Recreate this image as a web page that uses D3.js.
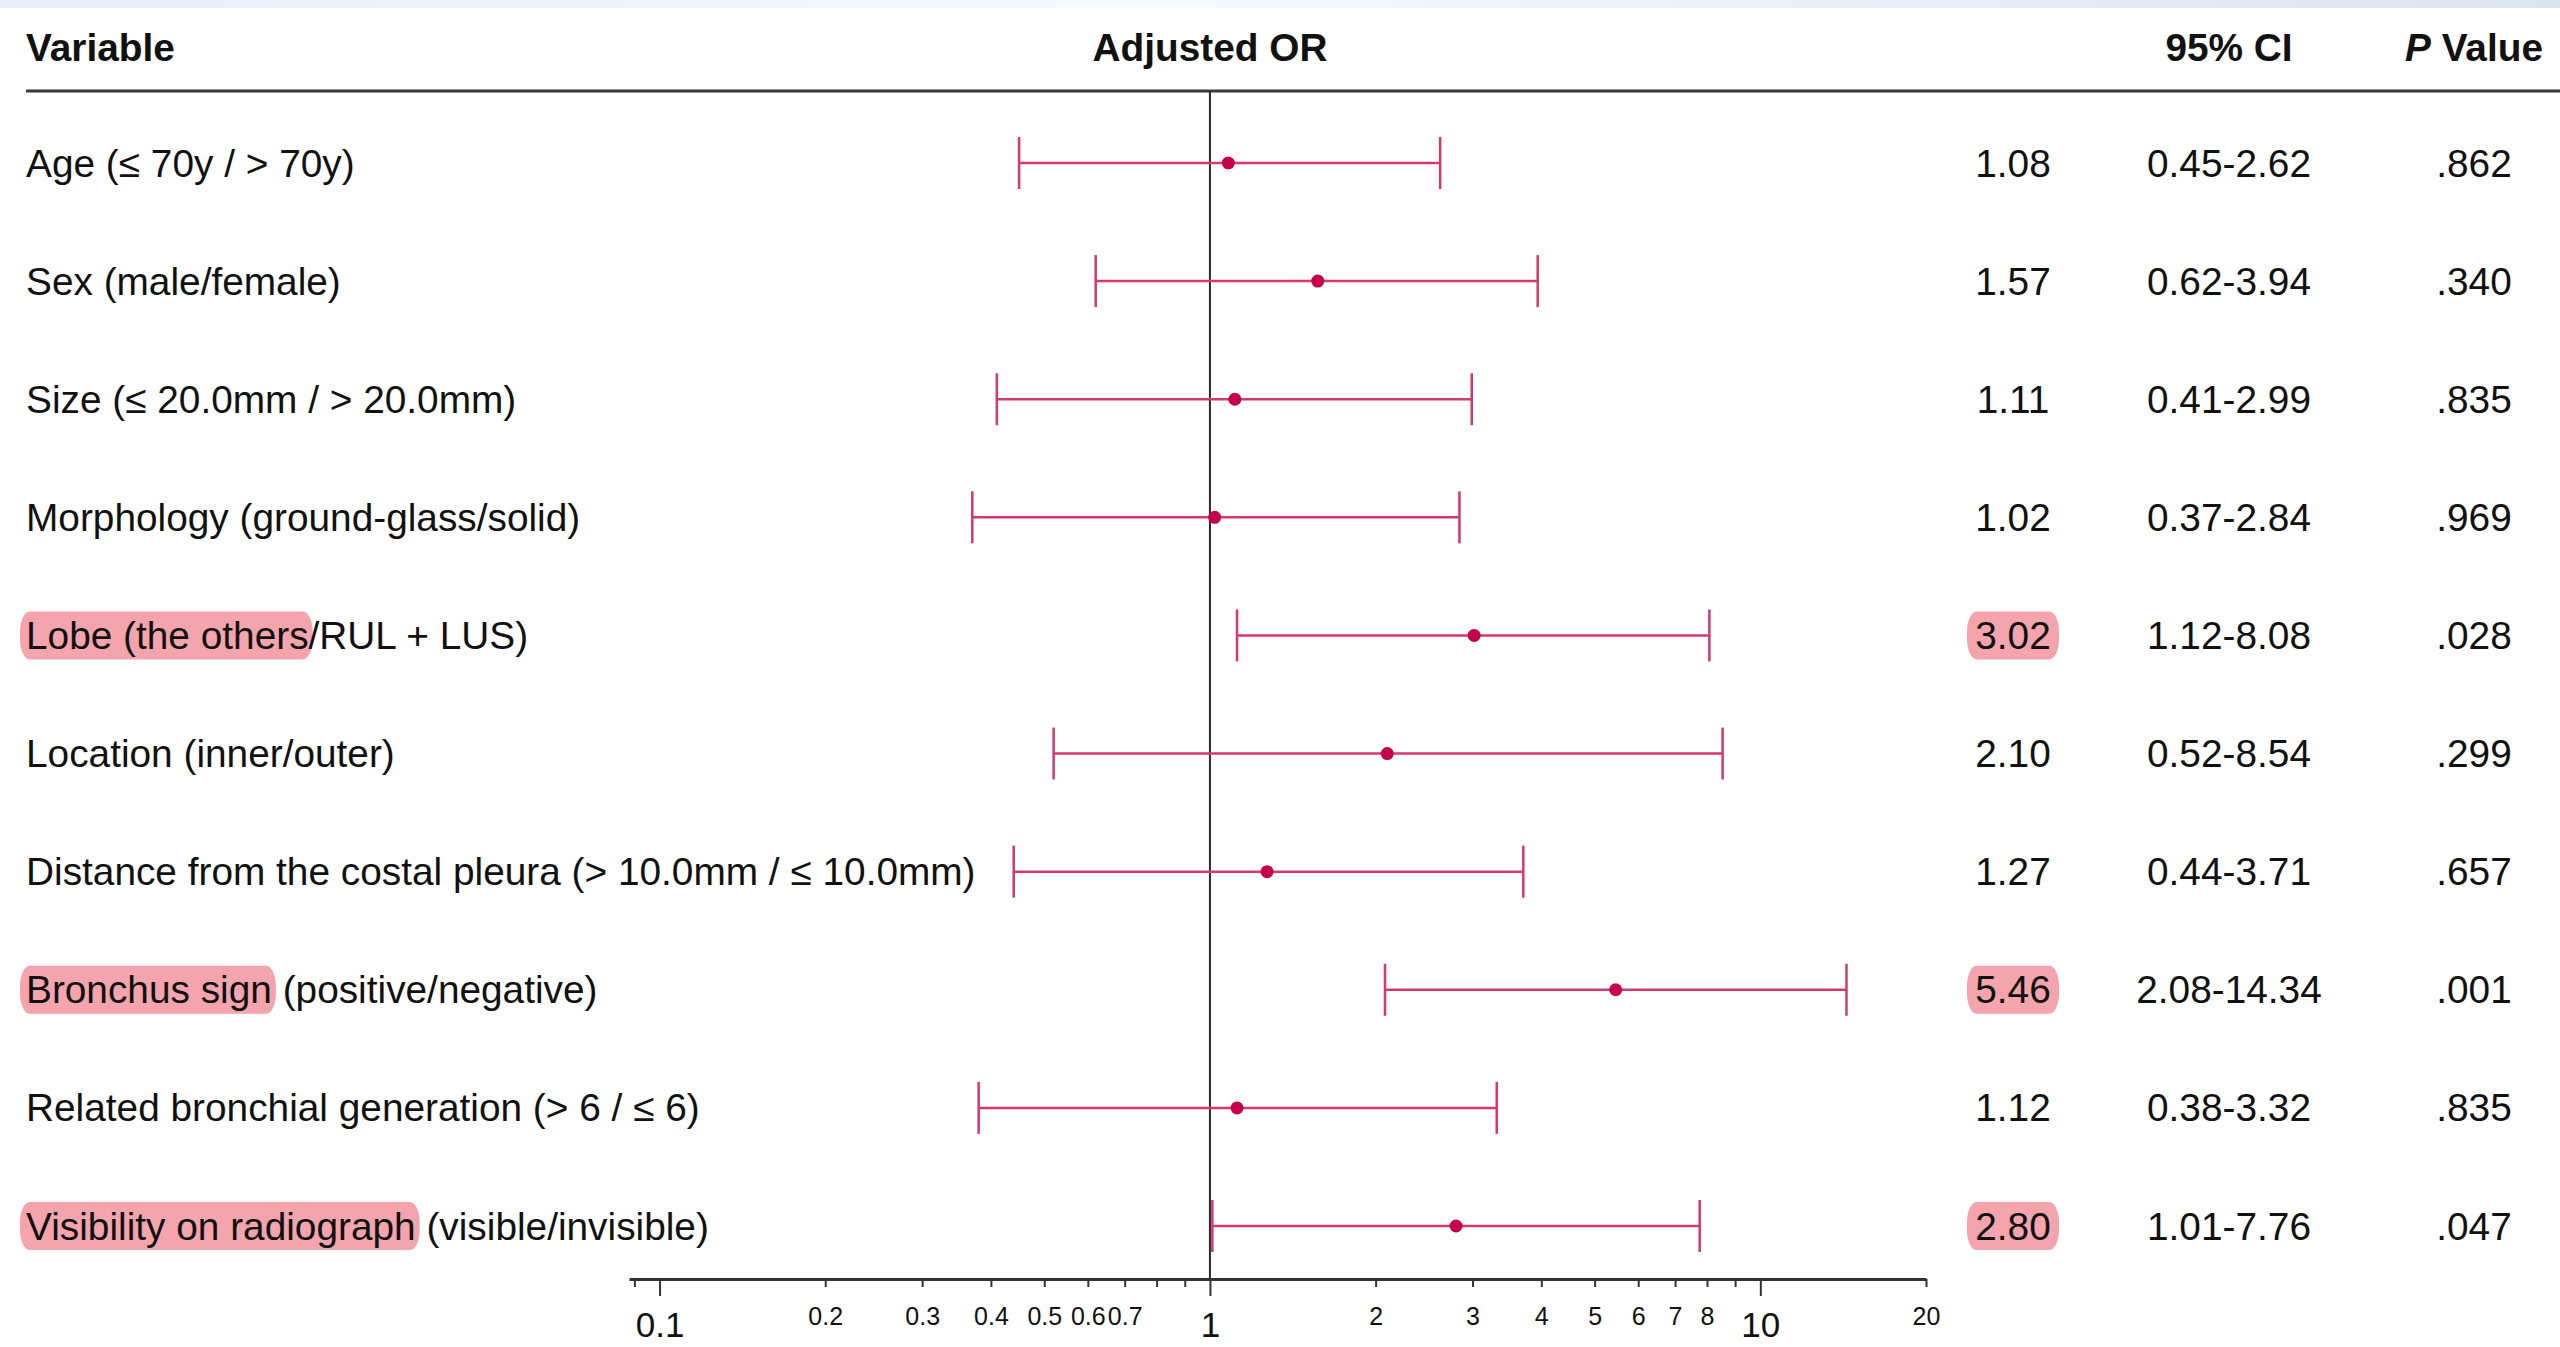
<!DOCTYPE html>
<html>
<head>
<meta charset="utf-8">
<script src="https://cdn.jsdelivr.net/npm/d3@7"></script>
<style>
  body { margin: 0; background: #fff; }
  svg { display: block; font-family: "Liberation Sans", Arial, Helvetica, sans-serif; }
</style>
</head>
<body>
<svg id="chart" width="2560" height="1347"></svg>
<script>
// ---- data ----
var variables = [
    "Age (≤ 70y / > 70y)",
    "Sex (male/female)",
    "Size (≤ 20.0mm / > 20.0mm)",
    "Morphology (ground-glass/solid)",
    "Lobe (the others/RUL + LUS)",
    "Location (inner/outer)",
    "Distance from the costal pleura (> 10.0mm / ≤ 10.0mm)",
    "Bronchus sign (positive/negative)",
    "Related bronchial generation (> 6 / ≤ 6)",
    "Visibility on radiograph (visible/invisible)"
];
// leading part of each label that is highlighted (empty = none)
var highlighted = ["", "", "", "", "Lobe (the others", "", "", "Bronchus sign", "", "Visibility on radiograph"];
var oddsRatio = [1.08, 1.57, 1.11, 1.02, 3.02, 2.10, 1.27, 5.46, 1.12, 2.80];
var ciLow = [0.45, 0.62, 0.41, 0.37, 1.12, 0.52, 0.44, 2.08, 0.38, 1.01];
var ciHigh = [2.62, 3.94, 2.99, 2.84, 8.08, 8.54, 3.71, 14.34, 3.32, 7.76];
var orText = ["1.08", "1.57", "1.11", "1.02", "3.02", "2.10", "1.27", "5.46", "1.12", "2.80"];
var ciText = ["0.45-2.62", "0.62-3.94", "0.41-2.99", "0.37-2.84", "1.12-8.08", "0.52-8.54", "0.44-3.71", "2.08-14.34", "0.38-3.32", "1.01-7.76"];
var pText = [".862", ".340", ".835", ".969", ".028", ".299", ".657", ".001", ".835", ".047"];
var axisExtent = [0.088, 20];
var tickValues = [0.09, 0.1, 0.2, 0.3, 0.4, 0.5, 0.6, 0.7, 0.8, 0.9, 1, 2, 3, 4, 5, 6, 7, 8, 9, 10, 20];
var smallLabels = [0.2, 0.3, 0.4, 0.5, 0.6, 0.7, 2, 3, 4, 5, 6, 7, 8, 20];
var bigLabels = [0.1, 1, 10];

var svg = d3.select("#chart"),
    width = +svg.attr("width"),
    height = +svg.attr("height");

var lineColor = "#d23a6b",
    dotColor = "#c4004c",
    markColor = "#f4a4ad",
    fontSize = 38.8;

var rows = variables.map(function (d, i) {
    return { label: d, hl: highlighted[i], or: oddsRatio[i], lo: ciLow[i], hi: ciHigh[i],
             orT: orText[i], ciT: ciText[i], pT: pText[i], sig: highlighted[i] !== "" };
});

// top strip
var defs = svg.append("defs");
var grad = defs.append("linearGradient").attr("id", "strip");
grad.append("stop").attr("offset", "0%").attr("stop-color", "#e7edf6");
grad.append("stop").attr("offset", "45%").attr("stop-color", "#f7f9fc");
grad.append("stop").attr("offset", "100%").attr("stop-color", "#dbe3ef");
svg.append("rect").attr("width", width).attr("height", 8).attr("fill", "url(#strip)");

var x = d3.scaleLog()
    .domain(axisExtent)
    .range([629, 1926]);

var y = d3.scalePoint()
    .domain(d3.range(rows.length))
    .range([163, 1226]);

var axisY = 1279,
    headerY = 47,
    headerLine = 91,
    colOR = 2013,
    colCI = 2229,
    colP = 2474;

// header
var header = svg.append("g")
    .attr("font-weight", "bold")
    .attr("font-size", fontSize)
    .attr("fill", "#111");
header.append("text").attr("x", 26).attr("y", headerY).attr("dy", "0.35em").text("Variable");
header.append("text").attr("x", x(1)).attr("y", headerY).attr("dy", "0.35em")
    .attr("text-anchor", "middle").text("Adjusted OR");
header.append("text").attr("x", colCI).attr("y", headerY).attr("dy", "0.35em")
    .attr("text-anchor", "middle").text("95% CI");
var pv = header.append("text").attr("x", colP).attr("y", headerY).attr("dy", "0.35em")
    .attr("text-anchor", "middle");
pv.append("tspan").attr("font-style", "italic").text("P");
pv.append("tspan").text(" Value");

svg.append("line")
    .attr("x1", 26).attr("x2", width)
    .attr("y1", headerLine).attr("y2", headerLine)
    .attr("stroke", "#3a3a3a").attr("stroke-width", 3);

// reference line at OR = 1
svg.append("line")
    .attr("x1", x(1)).attr("x2", x(1))
    .attr("y1", headerLine).attr("y2", axisY)
    .attr("stroke", "#2a2a2a").attr("stroke-width", 2);

// row labels with highlight boxes
var label = svg.append("g")
    .attr("font-size", fontSize)
    .attr("fill", "#111")
    .selectAll("g")
    .data(rows)
    .enter().append("g")
    .attr("transform", function (d, i) { return "translate(26," + y(i) + ")"; });

label.each(function (d) {
    var g = d3.select(this);
    if (d.hl) {
        var box = g.append("rect");
        var t = g.append("text").attr("dy", "0.35em");
        t.append("tspan").text(d.hl);
        var w = t.node().getComputedTextLength();
        t.append("tspan").text(d.label.slice(d.hl.length));
        box.attr("x", -6).attr("y", -24).attr("width", w + 10).attr("height", 48)
            .attr("rx", 10).attr("ry", 20).attr("fill", markColor);
    } else {
        g.append("text").attr("dy", "0.35em").text(d.label);
    }
});

// CI bars
var bars = svg.append("g")
    .selectAll("g")
    .data(rows)
    .enter().append("g")
    .attr("transform", function (d, i) { return "translate(0," + y(i) + ")"; });

bars.append("line")
    .attr("x1", function (d) { return x(d.lo); })
    .attr("x2", function (d) { return x(d.hi); })
    .attr("stroke", lineColor).attr("stroke-width", 2.5);

bars.selectAll(".cap")
    .data(function (d) { return [d.lo, d.hi]; })
    .enter().append("line")
    .attr("class", "cap")
    .attr("x1", x).attr("x2", x)
    .attr("y1", -26).attr("y2", 26)
    .attr("stroke", lineColor).attr("stroke-width", 2.5);

bars.append("circle")
    .attr("cx", function (d) { return x(d.or); })
    .attr("r", 6.5)
    .attr("fill", dotColor);

// right-hand columns
var cols = svg.append("g")
    .attr("font-size", fontSize)
    .attr("fill", "#111")
    .attr("text-anchor", "middle")
    .selectAll("g")
    .data(rows)
    .enter().append("g")
    .attr("transform", function (d, i) { return "translate(0," + y(i) + ")"; });

cols.filter(function (d) { return d.sig; })
    .append("rect")
    .attr("x", colOR - 46).attr("y", -24)
    .attr("width", 92).attr("height", 48)
    .attr("rx", 10).attr("ry", 20)
    .attr("fill", markColor);

cols.append("text").attr("x", colOR).attr("dy", "0.35em").text(function (d) { return d.orT; });
cols.append("text").attr("x", colCI).attr("dy", "0.35em").text(function (d) { return d.ciT; });
cols.append("text").attr("x", colP).attr("dy", "0.35em").text(function (d) { return d.pT; });

// log axis
var axis = svg.append("g")
    .attr("transform", "translate(0," + axisY + ")")
    .call(d3.axisBottom(x)
        .tickValues(tickValues)
        .tickSizeOuter(0)
        .tickFormat(function (d) { return (smallLabels.indexOf(d) >= 0 || bigLabels.indexOf(d) >= 0) ? String(d) : ""; }));

axis.select(".domain").attr("stroke", "#333").attr("stroke-width", 3);
axis.selectAll(".tick line")
    .attr("stroke", "#333")
    .attr("stroke-width", 2)
    .attr("y2", function (d) { return bigLabels.indexOf(d) >= 0 ? 17 : 8; });
axis.selectAll(".tick text")
    .attr("fill", "#111")
    .attr("font-family", "Liberation Sans, Arial, sans-serif")
    .attr("font-size", function (d) { return bigLabels.indexOf(d) >= 0 ? 35 : 25; })
    .attr("y", function (d) { return bigLabels.indexOf(d) >= 0 ? 46 : 37; })
    .attr("dy", "0.35em");
</script>
</body>
</html>
